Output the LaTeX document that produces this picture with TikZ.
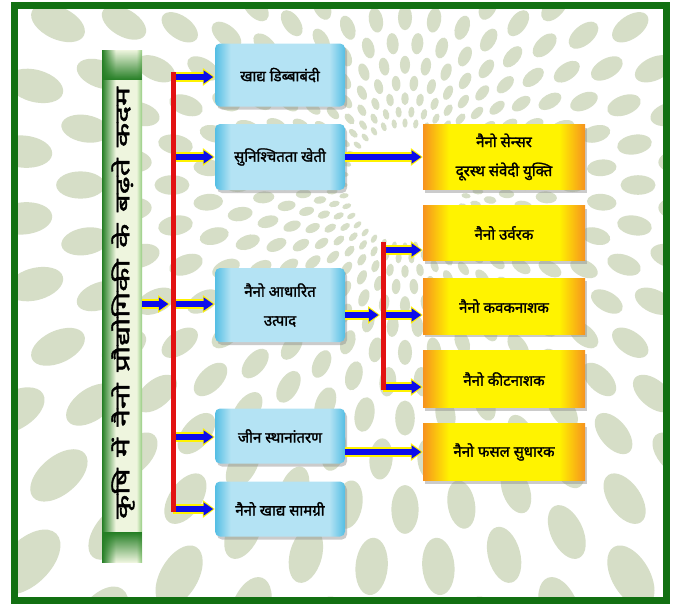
\documentclass[tikz,border=0pt]{standalone}
\usepackage{fontspec}
\newfontfamily\hindi[Script=Devanagari, FakeBold=1.6]{Noto Sans}
\usetikzlibrary{arrows.meta,shadows,fadings}

\definecolor{framegreen}{RGB}{18,112,18}
\definecolor{blob}{RGB}{214,222,199}
\definecolor{cyandark}{RGB}{84,190,228}
\definecolor{cyanlight}{RGB}{180,227,244}
\definecolor{orng}{RGB}{246,146,30}
\definecolor{yel}{RGB}{255,243,0}
\definecolor{tgdark}{RGB}{36,126,36}
\definecolor{tglight}{RGB}{238,245,222}
\definecolor{tgright}{RGB}{150,205,130}
\definecolor{arrblue}{RGB}{12,12,235}
\definecolor{arryel}{RGB}{255,242,0}
\definecolor{busred}{RGB}{226,18,18}

\pgfdeclarehorizontalshading{bluebox}{100bp}{color(0bp)=(cyandark); color(25bp)=(cyandark); color(31bp)=(cyanlight); color(69bp)=(cyanlight); color(75bp)=(cyandark); color(100bp)=(cyandark)}
\pgfdeclarehorizontalshading{orangebox}{100bp}{color(0bp)=(orng); color(25bp)=(orng); color(33bp)=(yel); color(67bp)=(yel); color(75bp)=(orng); color(100bp)=(orng)}
\pgfdeclarehorizontalshading{titleshade}{100bp}{color(0bp)=(tgdark); color(25bp)=(tgdark); color(42bp)=(tglight); color(68bp)=(tglight); color(75bp)=(tgright); color(100bp)=(tgright)}

\tikzset{
  boxfont/.style={font=\hindi\fontsize{15}{29}\selectfont},
  bbox/.style={rectangle, rounded corners=5pt, shading=bluebox, minimum width=130pt,
    inner sep=0pt, align=center, boxfont,
    drop shadow={shadow xshift=2pt, shadow yshift=-3pt, fill=black!45, opacity=.45}},
  obox/.style={rectangle, shading=orangebox, minimum width=162pt,
    inner sep=0pt, align=center, boxfont,
    drop shadow={shadow xshift=2pt, shadow yshift=-3pt, fill=black!45, opacity=.45}},
  tbox/.style={rectangle, shading=titleshade, minimum width=40pt, minimum height=512pt, inner sep=0pt},
  arr/.style={draw=arryel, line width=10pt, -{Triangle[length=12pt,width=17pt]},
    postaction={draw=arrblue, line width=6.5pt, -{Triangle[length=9.5pt,width=12.5pt]}, shorten >=1.6pt}},
  bus/.style={draw=busred, line width=5pt},
}

\begin{document}
\begin{tikzpicture}[x=1pt,y=-1pt]
\useasboundingbox (0,0) rectangle (683,606);
\fill[white] (0,0) rectangle (683,606);

% background tunnel pattern
\begin{scope}
\clip (18,9) rectangle (663,597);
\foreach \k in {0,...,13} {
  \pgfmathsetmacro\r{62*1.18^\k}
  \pgfmathsetmacro\ra{0.075*\r}
  \pgfmathsetmacro\rb{0.042*\r}
  \foreach \j in {0,...,35} {
    \pgfmathsetmacro\ang{10*\j + 5*mod(\k,2)}
    \fill[blob, shift={(405,185)}, rotate=\ang] (\r,0) ellipse [x radius=\ra pt, y radius=\rb pt];
  }
}
\end{scope}

% frame
\draw[framegreen, line width=7pt] (14.5,5.5) rectangle (666.5,600.5);

% title box
\node[tbox] (title) at (122,306) {};
\fill[tgdark, path fading=north] (102,50) rectangle (142,80);
\fill[tgdark, path fading=south] (142,532) rectangle (102,562);
\node[rotate=90, xscale=1.58, font=\hindi\fontsize{20}{22}\selectfont] (titletext) at (123,303) {कृषि\hspace{2pt} में\hspace{2pt} नैनो\hspace{2pt} प्रौद्योगिकी\hspace{2pt} के\hspace{2pt} बढ़ते\hspace{2pt} कदम};

% blue boxes
\node[bbox, minimum height=63pt] (b1) at (280,75) {खाद्य डिब्बाबंदी};
\node[bbox, minimum height=66pt] (b2) at (280,157) {सुनिश्चितता खेती};
\node[bbox, minimum height=74pt] (b3) at (280,305) {नैनो आधारित\\उत्पाद};
\node[bbox, minimum height=55pt] (b4) at (280,436) {जीन स्थानांतरण};
\node[bbox, minimum height=55pt] (b5) at (280,509) {नैनो खाद्य सामग्री};

% orange boxes
\node[obox, minimum height=65pt] (o1) at (504,157) {नैनो सेन्सर\\दूरस्थ संवेदी युक्ति};
\node[obox, minimum height=55pt] (o2) at (504,233) {नैनो उर्वरक};
\node[obox, minimum height=56pt] (o3) at (504,306) {नैनो कवकनाशक};
\node[obox, minimum height=57pt] (o4) at (504,379) {नैनो कीटनाशक};
\node[obox, minimum height=57pt] (o5) at (504,452) {नैनो फसल सुधारक};

% bus coordinates
\coordinate (busTop) at (173,72);
\coordinate (busBot) at (173,512);
\coordinate (bA) at (173,77);
\coordinate (bB) at (173,157);
\coordinate (bC) at (173,304);
\coordinate (bCin) at (170,304);
\coordinate (bD) at (173,437);
\coordinate (bE) at (173,509);
\coordinate (cTop) at (383,242);
\coordinate (cBot) at (383,390);
\coordinate (cIn) at (380,315);
\coordinate (c2) at (383,250);
\coordinate (c3) at (383,315);
\coordinate (c4) at (383,387);

% arrows
\draw[arr] (title.east |- bC) -- (bCin);
\draw[arr] (bA) -- (b1.west |- bA);
\draw[arr] (bB) -- (b2.west |- bB);
\draw[arr] (bC) -- (b3.west |- bC);
\draw[arr] (bD) -- (b4.west |- bD);
\draw[arr] (bE) -- (b5.west |- bE);
\draw[arr] (b2.east) -- (o1.west);
\draw[arr] (b3.east |- cIn) -- (cIn);
\draw[arr] (c2) -- (o2.west |- c2);
\draw[arr] (c3) -- (o3.west |- c3);
\draw[arr] (c4) -- (o4.west |- c4);
\draw[arr] (b4.east |- o5.west) -- (o5.west);

% red buses
\draw[bus] (busTop) -- (busBot);
\draw[bus] (cTop) -- (cBot);
\end{tikzpicture}
\end{document}
